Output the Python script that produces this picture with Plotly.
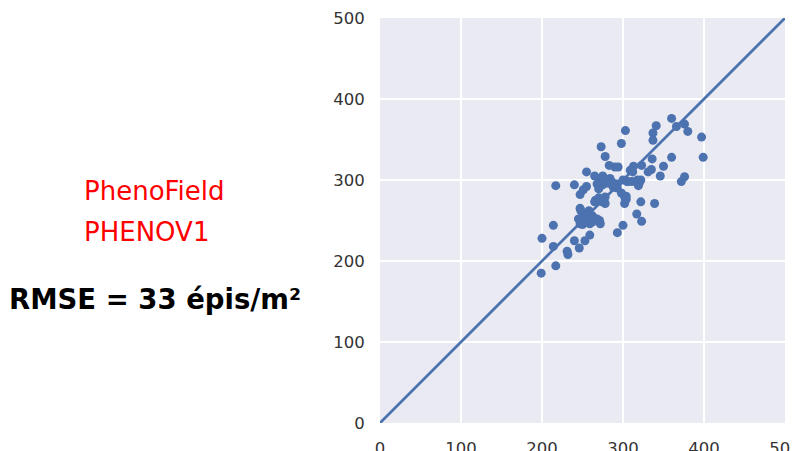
import plotly.graph_objects as go

# observed (x) vs estimated (y) ear density, épis/m²
x_vals = [199, 200, 214, 214, 217, 217, 231, 232, 240, 240, 246, 247, 247, 245, 247,
          251, 253, 255, 255, 251, 255, 259, 259, 263, 265, 265, 270, 271, 272, 273,
          274, 275, 275, 278, 278, 278, 283, 284, 288, 290, 293, 294, 293, 298, 298,
          300, 302, 302, 303, 304, 305, 309, 311, 313, 317, 319, 322, 322, 323, 323,
          331, 335, 336, 337, 337, 339, 341, 346, 350, 360, 360, 366, 372, 376, 376,
          380, 397, 399,
          258, 262, 268, 266, 270, 272, 276, 280, 268, 262, 250, 248, 256, 282, 286,
          306, 304, 320, 318, 312, 300, 293, 290]
y_vals = [185, 228, 244, 218, 293, 194, 212, 208, 294, 225, 216, 282, 265, 252, 246,
          288, 225, 292, 310, 258, 252, 232, 246, 254, 273, 305, 289, 250, 246, 341,
          273, 305, 294, 329, 271, 279, 318, 302, 291, 316, 235, 316, 295, 345, 284,
          244, 271, 279, 361, 276, 298, 312, 298, 317, 258, 293, 300, 273, 249, 318,
          310, 313, 326, 349, 358, 271, 367, 305, 317, 328, 376, 366, 298, 304, 369,
          360, 353, 328,
          262, 256, 252, 275, 278, 300, 298, 300, 295, 248, 245, 262, 248, 296, 298,
          298, 280, 296, 300, 310, 300, 290, 295]
line_vals = [0, 500]
tick_vals = [0, 100, 200, 300, 400, 500]

blue = "#4C72B0"

fig = go.Figure()
fig.add_trace(go.Scatter(x=line_vals, y=line_vals, mode="lines",
                         line=dict(color=blue, width=2.7), hoverinfo="skip"))
fig.add_trace(go.Scatter(x=x_vals, y=y_vals, mode="markers",
                         marker=dict(color=blue, size=9, line=dict(width=0))))

axis_common = dict(range=[0, 500], tickvals=tick_vals, showgrid=True,
                   gridcolor="white", gridwidth=1.5, zeroline=False, showline=False,
                   tickfont=dict(family="DejaVu Sans", size=16.5, color="#333333"),
                   ticks="outside", tickcolor="rgba(0,0,0,0)", automargin=False,
                   ticklabeloverflow="allow")
fig.update_xaxes(**axis_common, ticklen=10)
fig.update_yaxes(**axis_common, ticklen=11)

fig.add_annotation(text="PhenoField", xref="paper", yref="paper",
                   x=-0.736, y=0.572, xanchor="left", yanchor="middle",
                   showarrow=False, font=dict(family="DejaVu Sans", size=26, color="#FF0000"))
fig.add_annotation(text="PHENOV1", xref="paper", yref="paper",
                   x=-0.736, y=0.471, xanchor="left", yanchor="middle",
                   showarrow=False, font=dict(family="DejaVu Sans", size=26, color="#FF0000"))
fig.add_annotation(text="<b>RMSE = 33 épis/m²</b>", xref="paper", yref="paper",
                   x=-0.921, y=0.305, xanchor="left", yanchor="middle",
                   showarrow=False, font=dict(family="DejaVu Sans", size=27.5, color="#000000"))

fig.update_layout(width=791, height=443, showlegend=False,
                  margin=dict(l=372, r=14, t=10, b=28),
                  paper_bgcolor="white", plot_bgcolor="#EAEAF2")
fig.write_html("out.html")
